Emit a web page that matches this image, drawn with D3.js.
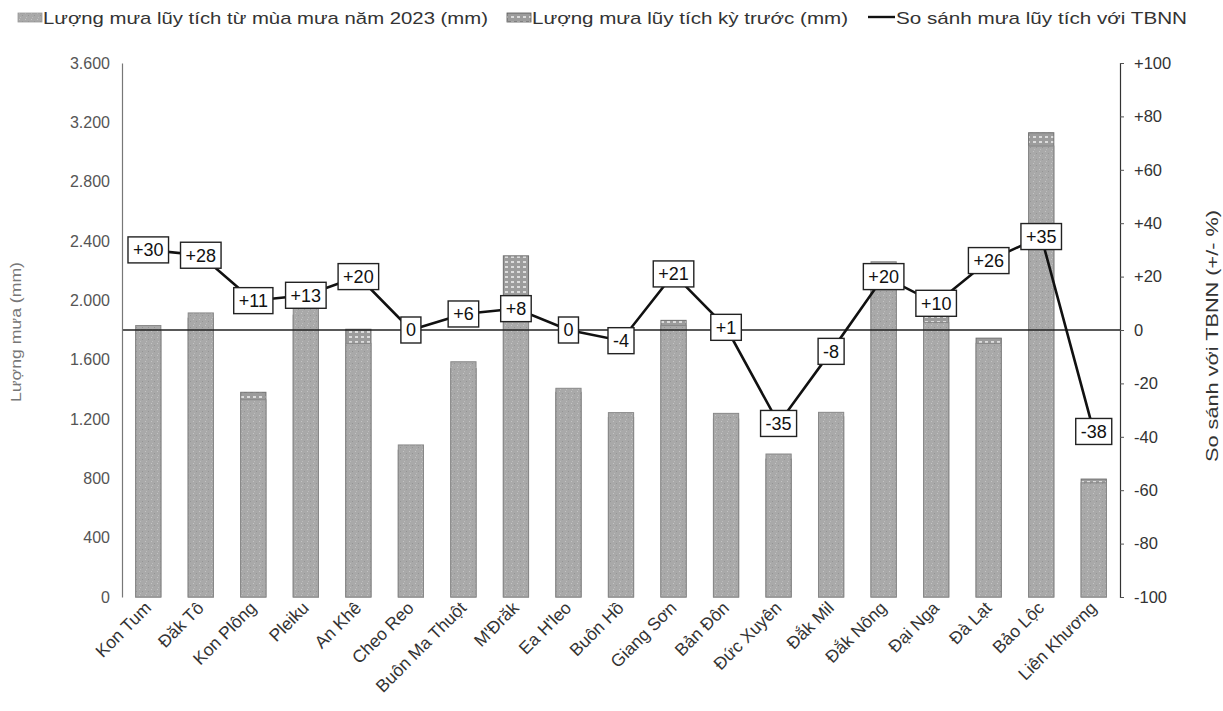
<!DOCTYPE html>
<html>
<head>
<meta charset="utf-8">
<script src="https://cdn.jsdelivr.net/npm/d3@7"></script>
<style>
  html, body { margin: 0; padding: 0; background: #fff; }
  svg { display: block; font-family: "Liberation Sans", Arial, sans-serif; }
</style>
</head>
<body>
<svg id="chart" width="1223" height="711"></svg>
<script>
// Stations (Tây Nguyên)
const stations = ["Kon Tum", "Đăk Tô", "Kon Plông", "Pleiku", "An Khê", "Cheo Reo",
  "Buôn Ma Thuột", "M'Đrăk", "Ea H'leo", "Buôn Hồ", "Giang Sơn", "Bản Đôn",
  "Đức Xuyên", "Đắk Mil", "Đắk Nông", "Đại Nga", "Đà Lạt", "Bảo Lộc", "Liên Khương"];

// Accumulated rainfall since start of 2023 rainy season (mm)
const rain2023 = [1830, 1915, 1330, 1960, 1710, 1025, 1586, 1960, 1407, 1243,
  1830, 1238, 964, 1245, 2260, 1850, 1710, 3040, 770];

// Accumulated rainfall, previous period (mm)
const rainPrev = [1790, 1880, 1380, 1900, 1805, 990, 1540, 2300, 1380, 1210,
  1865, 1200, 930, 1215, 2200, 1900, 1745, 3130, 795];

// Comparison with long-term average (%)
const pctTBNN = [30, 28, 11, 13, 20, 0, 6, 8, 0, -4, 21, 1, -35, -8, 20, 10, 26, 35, -38];

const leftTicks = [0, 400, 800, 1200, 1600, 2000, 2400, 2800, 3200, 3600];
const rightTicks = [-100, -80, -60, -40, -20, 0, 20, 40, 60, 80, 100];

const legendLabels = [
  "Lượng mưa lũy tích từ mùa mưa năm 2023 (mm)",
  "Lượng mưa lũy tích kỳ trước (mm)",
  "So sánh mưa lũy tích với TBNN"
];

const svg = d3.select("#chart");
const plot = { left: 122, right: 1120, top: 63, bottom: 597 };

const x = d3.scaleBand().domain(stations)
  .range([plot.left, plot.right]).paddingInner(0.52).paddingOuter(0.26);
const yL = d3.scaleLinear().domain([0, 3600]).range([plot.bottom, plot.top]);
const yR = d3.scaleLinear().domain([-100, 100]).range([plot.bottom, plot.top]);

const fmtThousands = d3.formatLocale({ decimal: ",", thousands: ".", grouping: [3], currency: ["", ""] }).format(",d");
const fmtPct = v => (v > 0 ? "+" : "") + v;

// Patterns
const defs = svg.append("defs");
const pCur = defs.append("pattern").attr("id", "pCur")
  .attr("width", 6).attr("height", 6).attr("patternUnits", "userSpaceOnUse");
pCur.append("rect").attr("width", 6).attr("height", 6).attr("fill", "#a9a9a9");
pCur.append("rect").attr("x", 1).attr("y", 1).attr("width", 1).attr("height", 1).attr("fill", "#c4c4c4");
pCur.append("rect").attr("x", 4).attr("y", 3).attr("width", 1).attr("height", 1).attr("fill", "#949494");
pCur.append("rect").attr("x", 2).attr("y", 5).attr("width", 1).attr("height", 1).attr("fill", "#bdbdbd");

const pPrev = defs.append("pattern").attr("id", "pPrev")
  .attr("width", 6).attr("height", 5).attr("patternUnits", "userSpaceOnUse");
pPrev.append("rect").attr("width", 6).attr("height", 5).attr("fill", "#9c9c9c");
pPrev.append("rect").attr("x", 1).attr("y", 1).attr("width", 3).attr("height", 2).attr("fill", "#dcdcdc");

// Previous-period bars (behind)
svg.append("g").selectAll("rect").data(stations).join("rect")
  .attr("x", d => x(d))
  .attr("width", x.bandwidth())
  .attr("y", (d, i) => yL(rainPrev[i]))
  .attr("height", (d, i) => yL(0) - yL(rainPrev[i]))
  .attr("fill", "url(#pPrev)")
  .attr("stroke", "#6f6f6f").attr("stroke-width", 1);

// 2023 bars (front)
svg.append("g").selectAll("rect").data(stations).join("rect")
  .attr("x", d => x(d))
  .attr("width", x.bandwidth())
  .attr("y", (d, i) => yL(rain2023[i]))
  .attr("height", (d, i) => yL(0) - yL(rain2023[i]))
  .attr("fill", "url(#pCur)")
  .attr("stroke", "#888").attr("stroke-width", 1);

// Zero reference line of the % axis
svg.append("line")
  .attr("x1", plot.left).attr("x2", plot.right)
  .attr("y1", yR(0)).attr("y2", yR(0))
  .attr("stroke", "#222").attr("stroke-width", 1.5);

// Left axis
const axL = svg.append("g").attr("transform", `translate(${plot.left},0)`)
  .call(d3.axisLeft(yL).tickValues(leftTicks).tickSize(0).tickPadding(12).tickFormat(fmtThousands));
axL.select(".domain").attr("stroke", "#777").attr("stroke-width", 1.2);
axL.selectAll("text").attr("font-size", 16).attr("fill", "#555")
  .attr("font-family", "'Liberation Sans', Arial, sans-serif");

// Right axis
const axR = svg.append("g").attr("transform", `translate(${plot.right},0)`)
  .call(d3.axisRight(yR).tickValues(rightTicks).tickSize(4).tickSizeOuter(4).tickPadding(10).tickFormat(fmtPct));
axR.select(".domain").attr("stroke", "#333").attr("stroke-width", 1.2);
axR.selectAll(".tick line").attr("stroke", "#555");
axR.selectAll("text").attr("font-size", 16.5).attr("fill", "#333")
  .attr("font-family", "'Liberation Sans', Arial, sans-serif");

// Category labels
svg.append("g").selectAll("text").data(stations).join("text")
  .attr("transform", d => `translate(${x(d) + x.bandwidth() / 2 + 4},${plot.bottom + 12}) rotate(-45)`)
  .attr("text-anchor", "end")
  .attr("font-size", 17.5).attr("fill", "#333")
  .text(d => d);

// Axis titles
svg.append("text")
  .attr("transform", `translate(21,${(plot.top + plot.bottom) / 2 + 2}) rotate(-90)`)
  .attr("text-anchor", "middle").attr("font-size", 15).attr("fill", "#777")
  .attr("textLength", 140).attr("lengthAdjust", "spacingAndGlyphs")
  .text("Lượng mưa (mm)");
svg.append("text")
  .attr("transform", `translate(1218,${(plot.top + plot.bottom) / 2 + 6}) rotate(-90)`)
  .attr("text-anchor", "middle").attr("font-size", 17).attr("fill", "#333")
  .attr("textLength", 252).attr("lengthAdjust", "spacingAndGlyphs")
  .text("So sánh với TBNN (+/- %)");

// Comparison line
const cx = d => x(d) + x.bandwidth() / 2;
const line = d3.line().x(d => cx(d)).y((d, i) => yR(pctTBNN[i]));
svg.append("path").datum(stations)
  .attr("d", line)
  .attr("fill", "none").attr("stroke", "#111").attr("stroke-width", 2.6);

// Value labels in boxes
const lab = svg.append("g").selectAll("g").data(stations).join("g")
  .attr("transform", (d, i) => `translate(${cx(d)},${yR(pctTBNN[i])})`);
lab.append("text")
  .attr("text-anchor", "middle").attr("dy", "0.36em")
  .attr("font-size", 18).attr("fill", "#111")
  .text((d, i) => fmtPct(pctTBNN[i]));
lab.each(function () {
  const g = d3.select(this);
  const bb = g.select("text").node().getBBox();
  g.insert("rect", "text")
    .attr("x", bb.x - 5).attr("y", -13)
    .attr("width", bb.width + 10).attr("height", 26)
    .attr("fill", "#fff").attr("stroke", "#222").attr("stroke-width", 1.4);
});

// Legend
const lg = svg.append("g").attr("font-size", 17).attr("fill", "#333");
lg.append("rect").attr("x", 18).attr("y", 13).attr("width", 24).attr("height", 9)
  .attr("fill", "url(#pCur)").attr("stroke", "#999").attr("stroke-width", 0.8);
lg.append("text").attr("x", 43).attr("y", 24)
  .attr("textLength", 445).attr("lengthAdjust", "spacingAndGlyphs").text(legendLabels[0]);
lg.append("rect").attr("x", 507).attr("y", 13).attr("width", 24).attr("height", 9)
  .attr("fill", "url(#pPrev)").attr("stroke", "#555").attr("stroke-width", 0.8);
lg.append("text").attr("x", 532).attr("y", 24)
  .attr("textLength", 316).attr("lengthAdjust", "spacingAndGlyphs").text(legendLabels[1]);
lg.append("line").attr("x1", 868).attr("x2", 895).attr("y1", 17).attr("y2", 17)
  .attr("stroke", "#111").attr("stroke-width", 2.4);
lg.append("text").attr("x", 896).attr("y", 24)
  .attr("textLength", 291).attr("lengthAdjust", "spacingAndGlyphs").text(legendLabels[2]);
</script>
</body>
</html>
